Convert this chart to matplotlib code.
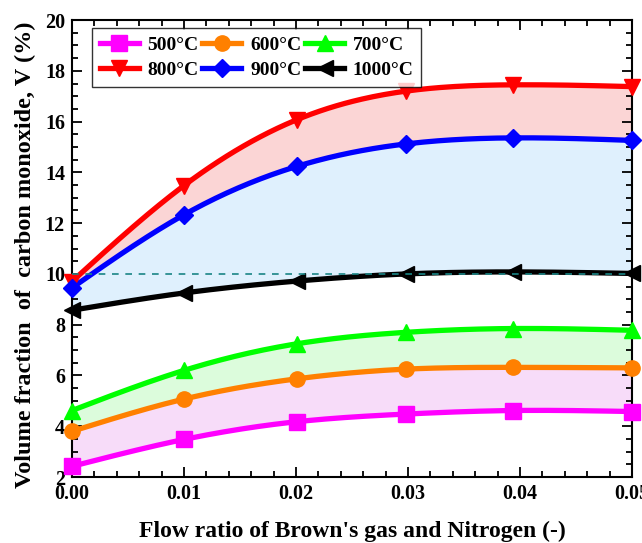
import numpy as np
import matplotlib
matplotlib.use('Agg')
import matplotlib.pyplot as plt
from matplotlib.ticker import MultipleLocator, FormatStrFormatter


# flow ratio of Brown's gas to nitrogen
FLOW_RATIO = [0.0, 0.0100, 0.0201, 0.0298, 0.0394, 0.05]

# CO volume fraction (%) per reactor temperature
CO_500 = [2.42, 3.48, 4.18, 4.48, 4.62, 4.58]
CO_600 = [3.80, 5.07, 5.87, 6.25, 6.32, 6.30]
CO_700 = [4.62, 6.20, 7.25, 7.70, 7.85, 7.78]
CO_800 = [9.70, 13.48, 16.08, 17.20, 17.45, 17.38]
CO_900 = [9.45, 12.33, 14.24, 15.12, 15.36, 15.26]
CO_1000 = [8.57, 9.25, 9.72, 10.00, 10.08, 10.02]

LABELS = ['500°C', '600°C', '700°C', '800°C', '900°C', '1000°C']
COLORS = ['#ff00ff', '#ff8000', '#00ff00', '#ff0000', '#0000ff', '#000000']
MARKERS = ['s', 'o', '^', 'v', 'D', '<']


def NaturalSpline(x, y, n=200):
    x = np.asarray(x, float)
    y = np.asarray(y, float)
    k = len(x)
    h = np.diff(x)
    A = np.zeros((k, k))
    b = np.zeros(k)
    A[0, 0] = 1
    A[-1, -1] = 1
    for i in range(1, k - 1):
        A[i, i - 1] = h[i - 1]
        A[i, i] = 2 * (h[i - 1] + h[i])
        A[i, i + 1] = h[i]
        b[i] = 6 * ((y[i + 1] - y[i]) / h[i] - (y[i] - y[i - 1]) / h[i - 1])
    m = np.linalg.solve(A, b)
    xs = np.linspace(x[0], x[-1], n)
    idx = np.clip(np.searchsorted(x, xs) - 1, 0, k - 2)
    x0, x1 = x[idx], x[idx + 1]
    hh = x1 - x0
    t0 = x1 - xs
    t1 = xs - x0
    ys = (m[idx] * t0 ** 3 + m[idx + 1] * t1 ** 3) / (6 * hh) \
        + (y[idx] / hh - m[idx] * hh / 6) * t0 \
        + (y[idx + 1] / hh - m[idx + 1] * hh / 6) * t1
    return xs, ys


plt.rcParams['font.family'] = 'Liberation Serif'
plt.rcParams['font.weight'] = 'bold'

fig = plt.figure(figsize=(6.42, 5.43), dpi=100)
ax = fig.add_axes([0.112, 0.1215, 0.8724, 0.8415])

series = [CO_500, CO_600, CO_700, CO_800, CO_900, CO_1000]
curves = [NaturalSpline(FLOW_RATIO, s) for s in series]

# shaded bands between neighbouring temperatures
bands = [(0, 1, '#f7dcf9'), (1, 2, '#dcfcdc'), (4, 3, '#fbd5d5'), (5, 4, '#dff0fd')]
for lo, hi, c in bands:
    ax.fill_between(curves[lo][0], curves[lo][1], curves[hi][1], color=c, lw=0, zorder=1)

handles = []
for i, s in enumerate(series):
    xs, ys = curves[i]
    ms = 11 if MARKERS[i] != 'D' else 9.5
    ax.plot(xs, ys, color=COLORS[i], lw=3.8, zorder=3, solid_capstyle='round')
    ax.plot(FLOW_RATIO, s, ls='none', marker=MARKERS[i], ms=ms,
            color=COLORS[i], zorder=4, clip_on=False)
    h, = ax.plot([], [], color=COLORS[i], lw=3.8, marker=MARKERS[i], ms=ms, label=LABELS[i])
    handles.append(h)

ax.axhline(10, color='#1a8585', ls=(0, (4, 4)), lw=1.2, zorder=5)

ax.set_xlim(0, 0.05)
ax.set_ylim(2, 20)
ax.xaxis.set_major_locator(MultipleLocator(0.01))
ax.xaxis.set_minor_locator(MultipleLocator(0.002))
ax.xaxis.set_major_formatter(FormatStrFormatter('%.2f'))
ax.yaxis.set_major_locator(MultipleLocator(2))
ax.yaxis.set_minor_locator(MultipleLocator(0.5))
ax.tick_params(which='both', direction='in', top=True, right=True, labelsize=14.5, width=1.3)
ax.tick_params(which='major', length=7, pad=5)
ax.tick_params(which='minor', length=4)
for sp in ax.spines.values():
    sp.set_linewidth(1.5)

ax.set_xlabel("Flow ratio of Brown's gas and Nitrogen (-)", fontsize=17, fontweight='bold', labelpad=12)
ax.set_ylabel('Volume fraction  of  carbon monoxide, V (%)', fontsize=17.5, fontweight='bold')
ax.yaxis.set_label_coords(-0.064, 0.487)

# legend filled row by row: 500/600/700 then 800/900/1000
order = [0, 3, 1, 4, 2, 5]
leg = ax.legend([handles[j] for j in order], [LABELS[j] for j in order],
                loc='upper left', bbox_to_anchor=(0.036, 0.982), ncol=3, fontsize=14,
                frameon=True, fancybox=False, edgecolor='black', handlelength=2.0,
                handletextpad=0.45, columnspacing=0.2, borderpad=0.4, labelspacing=0.4,
                borderaxespad=0)
leg.get_frame().set_linewidth(1.0)
leg.set_zorder(10)

fig.savefig('out.png', dpi=100)
